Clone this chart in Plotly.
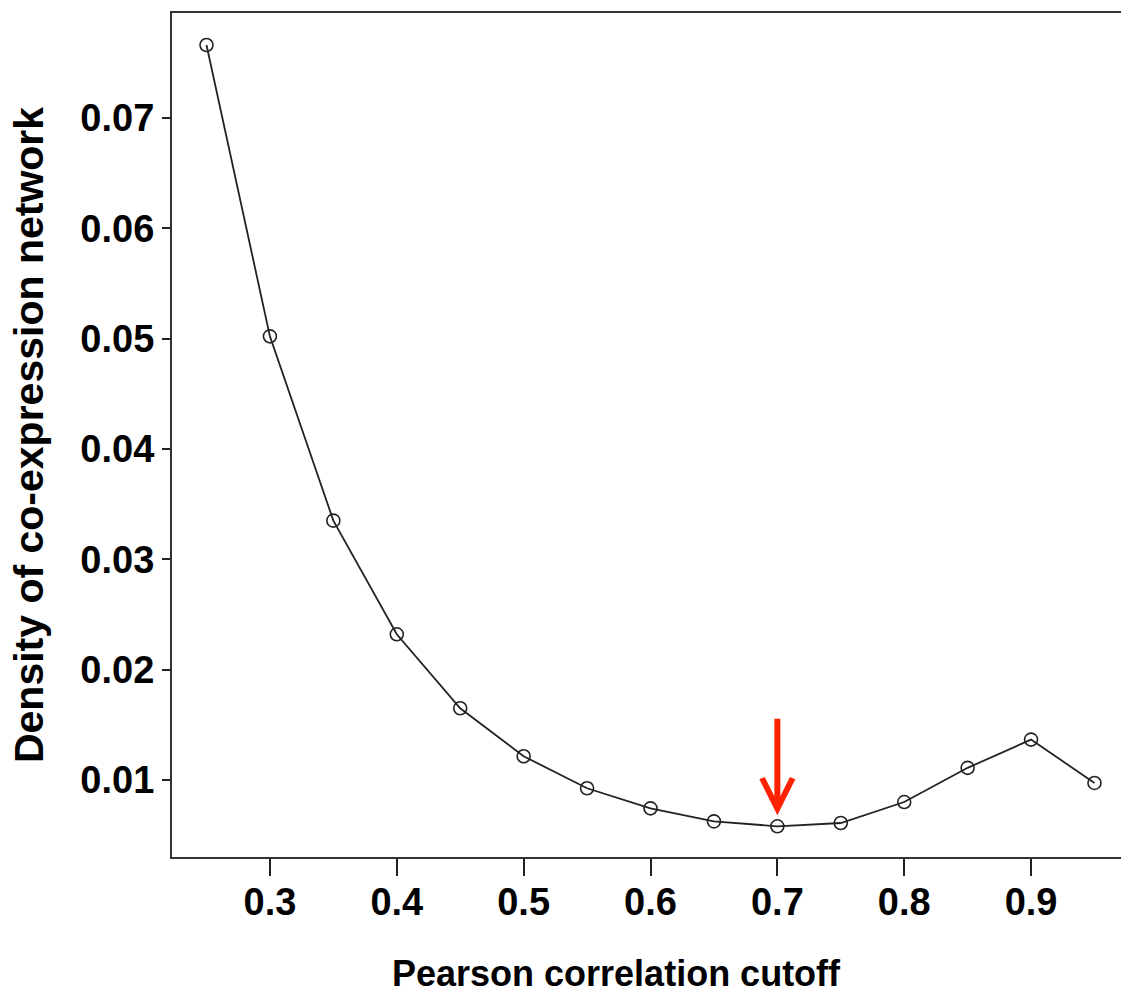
import plotly.graph_objects as go

cutoff = [0.25, 0.30, 0.35, 0.40, 0.45, 0.50, 0.55, 0.60, 0.65, 0.70, 0.75, 0.80, 0.85, 0.90, 0.95]
density = [0.0766, 0.0502, 0.0335, 0.0232, 0.0165, 0.01215, 0.00925, 0.00743, 0.00625,
           0.0058, 0.0061, 0.0080, 0.0111, 0.01366, 0.00973]
x_ticks = [0.3, 0.4, 0.5, 0.6, 0.7, 0.8, 0.9]
x_ticktext = ["0.3", "0.4", "0.5", "0.6", "0.7", "0.8", "0.9"]
y_ticks = [0.01, 0.02, 0.03, 0.04, 0.05, 0.06, 0.07]
y_ticktext = ["0.01", "0.02", "0.03", "0.04", "0.05", "0.06", "0.07"]
chosen_cutoff = 0.70
x_title = "Pearson correlation cutoff"
y_title = "Density of co-expression network"

FONT = "Liberation Sans, Arial, Helvetica, sans-serif"

fig = go.Figure()
fig.add_trace(go.Scatter(
    x=cutoff, y=density, mode="lines+markers",
    line=dict(color="#222222", width=1.8),
    marker=dict(symbol="circle-open", size=13, color="#222222", line=dict(width=1.6)),
    showlegend=False, hoverinfo="x+y",
))

chosen_y = density[cutoff.index(chosen_cutoff)]
fig.add_annotation(
    x=chosen_cutoff, y=chosen_y, xref="x", yref="y",
    ax=0, ay=-109, axref="pixel", ayref="pixel",
    showarrow=True, arrowhead=5, arrowwidth=6, arrowsize=1.0,
    arrowcolor="#ff2200", standoff=11, text="",
)

# x-axis title placed as annotation (slightly left of plot centre, as in the original)
fig.add_annotation(
    text=x_title, xref="paper", yref="paper", x=0.468, y=-0.138,
    xanchor="center", yanchor="middle", showarrow=False,
    font=dict(size=36, family=FONT, weight="bold", color="black"),
)

fig.update_layout(
    width=1121, height=994,
    margin=dict(l=172, r=0, t=13, b=137, autoexpand=False),
    paper_bgcolor="white", plot_bgcolor="white",
    font=dict(family=FONT, color="black"),
    xaxis=dict(
        range=[0.2228, 0.9709], automargin=False,
        tickvals=x_ticks, ticktext=x_ticktext,
        ticks="outside", ticklen=17, tickwidth=2, tickcolor="#222",
        ticklabelstandoff=-7,
        tickfont=dict(size=38, family=FONT, weight="bold"),
        showline=True, linecolor="#333", linewidth=2.2, mirror=True,
        showgrid=False, zeroline=False,
    ),
    yaxis=dict(
        range=[0.00302, 0.0795], automargin=False,
        tickvals=y_ticks, ticktext=y_ticktext,
        ticks="outside", ticklen=8, tickwidth=2, tickcolor="#222",
        tickfont=dict(size=38, family=FONT, weight="bold"),
        showline=True, linecolor="#333", linewidth=2.2, mirror=True,
        showgrid=False, zeroline=False,
        title=dict(text=y_title, font=dict(size=41, family=FONT, weight="bold"), standoff=24),
    ),
)

fig.write_html(
    "out.html",
    config={"displayModeBar": False},
    post_script="document.body.style.margin='0';document.body.style.overflow='hidden';",
)
